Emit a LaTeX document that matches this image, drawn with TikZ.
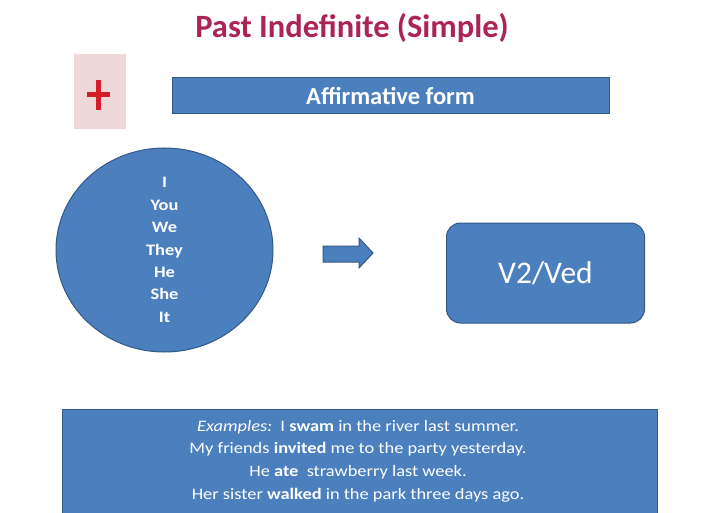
\documentclass[tikz,border=0pt]{standalone}
\usepackage{fontspec}
\setmainfont{Carlito}
\newfontfamily\widefont[FakeStretch=1.15]{Carlito}
\usetikzlibrary{shapes.geometric}
\definecolor{ofblue}{RGB}{76,127,190}
\definecolor{ofedge}{RGB}{52,88,135}
\definecolor{titlered}{RGB}{172,35,88}
\definecolor{pinkbg}{RGB}{238,216,216}
\definecolor{plusred}{RGB}{214,28,40}
\tikzset{
  bluebox/.style={fill=ofblue, draw=ofedge, line width=1pt, text=white, inner sep=0pt},
  titletext/.style={text=titlered, font=\bfseries\fontsize{32.5}{38}\selectfont, inner sep=0pt},
  pluslines/.style={plusred, line width=5pt},
}
\begin{document}
\begin{tikzpicture}[x=1pt,y=-1pt]
\useasboundingbox (0,0) rectangle (719,513);
\fill[white] (0,0) rectangle (719,513);

\node[titletext, anchor=base] (title) at (352,38) {Past Indefinite (Simple)};

\node[fill=pinkbg, minimum width=52pt, minimum height=75pt, inner sep=0pt] (plus) at (100,91.5) {};
\draw[pluslines] (98,80) -- (98,110) (87,95) -- (110,95);

\node[bluebox, minimum width=437pt, minimum height=36pt,
      font=\bfseries\fontsize{24.5}{28}\selectfont] (bar) at (390.5,95.5) {Affirmative form};

\node[bluebox, ellipse, minimum width=217pt, minimum height=204pt] (circ) at (164.5,250) {};
\node[text=white, align=center, font=\widefont\bfseries\fontsize{16}{22.4}\selectfont, inner sep=0pt]
      (pron) at (164.5,250) {I\\You\\We\\They\\He\\She\\It};

\draw[bluebox] (323,246) -- (359,246) -- (359,238) -- (373,253) -- (359,268) -- (359,262) -- (323,262) -- cycle;
\coordinate (arr) at (348,253);

\node[bluebox, rounded corners=14pt, minimum width=198pt, minimum height=100pt,
      font=\fontsize{31.5}{36}\selectfont] (verb) at (545.5,273) {V2/Ved};

\node[bluebox, minimum width=595pt, minimum height=110pt] (ex) at (359.5,464) {};
\node[text=white, align=center, font=\widefont\fontsize{16}{22.7}\selectfont, inner sep=0pt] (extext) at (358,461)
 {\textit{Examples:}\ \ I \textbf{swam} in the river last summer.\\
  My friends \textbf{invited} me to the party yesterday.\\
  He \textbf{ate}\ \ strawberry last week.\\
  Her sister \textbf{walked} in the park three days ago.};
\end{tikzpicture}
\end{document}
